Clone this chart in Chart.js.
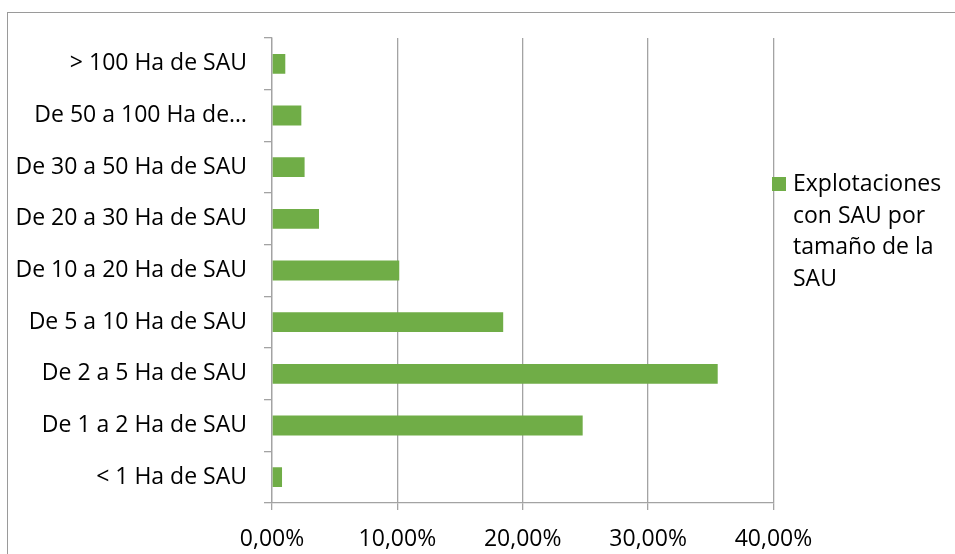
<!DOCTYPE html>
<html>
<head>
<meta charset="utf-8">
<script src="https://cdn.jsdelivr.net/npm/chart.js@4"></script>
<style>
  html, body { margin:0; padding:0; background:#fff; }
  #wrap { width:955px; height:554px; }
</style>
</head>
<body>
<div id="wrap"><canvas id="sauChart" width="955" height="554"></canvas></div>
<script>
const categories = [
  '> 100 Ha de SAU',
  'De 50 a 100 Ha de…',
  'De 30 a 50 Ha de SAU',
  'De 20 a 30 Ha de SAU',
  'De 10 a 20 Ha de SAU',
  'De 5 a 10 Ha de SAU',
  'De 2 a 5 Ha de SAU',
  'De 1 a 2 Ha de SAU',
  '< 1 Ha de SAU'
];
const explotaciones = [1.06, 2.34, 2.6, 3.75, 10.15, 18.44, 35.55, 24.78, 0.8];
const xTicks = [0, 10, 20, 30, 40];
const seriesName = ['Explotaciones', 'con SAU por', 'tamaño de la', 'SAU'];

const FONT = "'Open Sans', sans-serif";
const GRID = '#a3a3a3';
const GREEN = '#70ad47';

// outer frame + wrapped legend on the right
const frameAndLegend = {
  id:'frameAndLegend',
  afterDraw(chart){
    const ctx = chart.ctx;
    ctx.save();
    ctx.strokeStyle = '#9a9a9a';
    ctx.lineWidth = 1;
    ctx.strokeRect(7.5, 12.5, 1000, 1000);
    ctx.fillStyle = GREEN;
    ctx.fillRect(772, 177, 14, 14);
    ctx.fillStyle = '#000';
    ctx.font = '23px ' + FONT;
    ctx.textAlign = 'left';
    ctx.textBaseline = 'alphabetic';
    seriesName.forEach((line, i)=> ctx.fillText(line, 793, 191 + i*31.7));
    ctx.restore();
  }
};

new Chart(document.getElementById('sauChart'), {
  type:'bar',
  data:{
    labels: categories,
    datasets:[{
      label: seriesName.join(' '),
      data: explotaciones,
      backgroundColor: GREEN,
      borderWidth: 0,
      barPercentage: 0.385,
      categoryPercentage: 1
    }]
  },
  options:{
    indexAxis:'y',
    responsive:false,
    animation:false,
    layout:{ padding:{ left:0, top:38, right:181.5, bottom:0 } },
    plugins:{ legend:{ display:false }, tooltip:{ enabled:false } },
    scales:{
      x:{
        min:0, max:40,
        afterBuildTicks: s => { s.ticks = xTicks.map(v=>({value:v})); },
        afterFit: s => { s.height = 51; },
        grid:{ color:GRID, lineWidth:1.3, tickLength:7 },
        border:{ color:GRID, width:1.3 },
        ticks:{
          color:'#000', padding:16,
          font:{ family:FONT, size:23 },
          callback: v => v.toFixed(2).replace('.', ',') + '%'
        }
      },
      y:{
        afterFit: s => { s.width = 272; },
        grid:{ color:GRID, lineWidth:1.3, tickLength:8, drawOnChartArea:false },
        border:{ color:GRID, width:1.3 },
        ticks:{ color:'#000', padding:17, font:{ family:FONT, size:23 } }
      }
    }
  },
  plugins:[frameAndLegend]
});
</script>
</body>
</html>
